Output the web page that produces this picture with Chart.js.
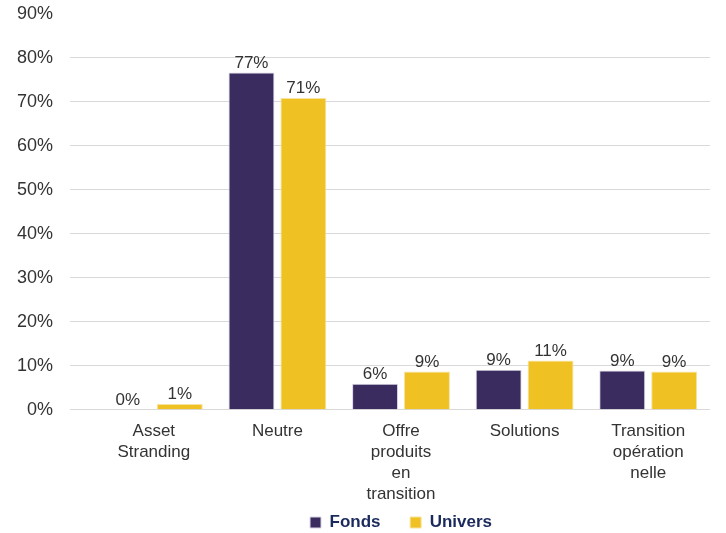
<!DOCTYPE html>
<html lang="fr">
<head>
    <meta charset="UTF-8">
    <title>Fonds vs Univers</title>
    <style>
        body {
            margin: 0;
            padding: 0;
            background: #ffffff;
        }
        .chart-box {
            width: 726px;
            height: 533px;
        }
    </style>
    <script src="https://cdn.jsdelivr.net/npm/chart.js"></script>
</head>
<body>
    <div class="chart-box">
        <canvas id="chart"></canvas>
    </div>

    <script>
        const categories = [
            ['Asset', 'Stranding'],
            ['Neutre'],
            ['Offre', 'produits', 'en', 'transition'],
            ['Solutions'],
            ['Transition', 'opération', 'nelle']
        ];
        const fonds = [0, 76.7, 5.9, 9.1, 8.9];
        const univers = [1.3, 70.9, 8.7, 11.2, 8.7];
        const yTicks = [0, 10, 20, 30, 40, 50, 60, 70, 80, 90];

        // draws the "77%" style labels above each bar
        const barLabels = {
            id: 'barLabels',
            afterDatasetsDraw(chart) {
                const ctx = chart.ctx;
                ctx.save();
                ctx.font = '17px "Liberation Sans", Arial, sans-serif';
                ctx.fillStyle = '#333333';
                ctx.textAlign = 'center';
                ctx.textBaseline = 'bottom';
                chart.data.datasets.forEach((ds, i) => {
                    chart.getDatasetMeta(i).data.forEach((bar, j) => {
                        ctx.fillText(Math.round(ds.data[j]) + '%', bar.x, bar.y - 1);
                    });
                });
                ctx.restore();
            }
        };

        new Chart(document.getElementById('chart'), {
            type: 'bar',
            data: {
                labels: categories,
                datasets: [
                    {
                        label: 'Fonds',
                        data: fonds,
                        backgroundColor: '#3a2c5f',
                        borderColor: '#d9d4e6',
                        borderWidth: 1,
                        categoryPercentage: 0.84,
                        barPercentage: 0.885
                    },
                    {
                        label: 'Univers',
                        data: univers,
                        backgroundColor: '#efc123',
                        borderColor: '#f7e3a0',
                        borderWidth: 1,
                        categoryPercentage: 0.84,
                        barPercentage: 0.885
                    }
                ]
            },
            options: {
                responsive: true,
                maintainAspectRatio: false,
                animation: false,
                layout: {
                    padding: { top: 0, right: 16, left: 0, bottom: -8 }
                },
                scales: {
                    x: {
                        grid: { display: false },
                        border: { display: false },
                        ticks: {
                            color: '#333333',
                            font: { family: '"Liberation Sans", Arial, sans-serif', size: 17, lineHeight: 1.24 },
                            maxRotation: 0,
                            autoSkip: false,
                            padding: 3
                        }
                    },
                    y: {
                        min: 0,
                        max: 90,
                        afterBuildTicks(axis) {
                            axis.ticks = yTicks.map(v => ({ value: v }));
                        },
                        // tick padding would otherwise push the plot top down
                        afterFit(axis) {
                            axis.paddingTop = 14;
                            axis.paddingBottom = 0;
                        },
                        border: { display: false },
                        grid: {
                            color: c => (c.tick && c.tick.value === 90) ? 'rgba(0,0,0,0)' : '#d9d9d9',
                            tickLength: 22,
                            drawTicks: true
                        },
                        ticks: {
                            color: '#333333',
                            font: { family: '"Liberation Sans", Arial, sans-serif', size: 18 },
                            padding: 17,
                            callback: v => v + '%'
                        }
                    }
                },
                plugins: {
                    legend: {
                        position: 'bottom',
                        fullSize: false,
                        labels: {
                            color: '#1b2a5c',
                            font: { family: '"Liberation Sans", Arial, sans-serif', size: 17, weight: 'bold' },
                            boxWidth: 11,
                            boxHeight: 11,
                            padding: 6,
                            useBorderRadius: false,
                            // wider gap between the two entries without a taller legend
                            generateLabels(chart) {
                                const items = Chart.defaults.plugins.legend.labels.generateLabels(chart);
                                items[0].text = items[0].text + '     ';
                                return items;
                            }
                        }
                    },
                    tooltip: { enabled: false }
                }
            },
            plugins: [barLabels]
        });
    </script>
</body>
</html>
